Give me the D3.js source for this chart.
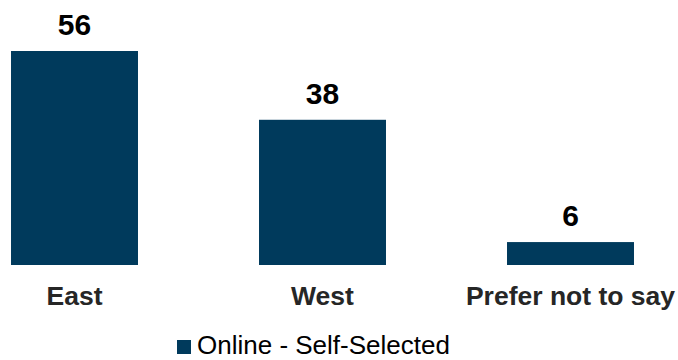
<!DOCTYPE html>
<html><head><meta charset="utf-8">
<script src="https://cdn.jsdelivr.net/npm/d3@7"></script>
<style>body{margin:0;background:#fff}svg{display:block}</style>
</head><body>
<svg id="chart" width="678" height="360"></svg>
<script>
const categories = ["East", "West", "Prefer not to say"];
const values = [56, 38, 6];
const seriesName = "Online - Self-Selected";
const color = "#003a5c";

const svg = d3.select("#chart");
const font = "Liberation Sans, Arial, sans-serif";
const baseline = 265;

const x = d3.scaleBand().domain(categories).range([-49.5, 694.5])
  .paddingInner(0.488).paddingOuter(0.244);
const y = d3.scaleLinear().domain([0, 56]).range([baseline, 51]);

svg.selectAll("rect.bar").data(values).join("rect").attr("class","bar")
  .attr("x", (d,i) => x(categories[i])).attr("width", x.bandwidth())
  .attr("y", d => y(d)).attr("height", d => baseline - y(d)).attr("fill", color);

svg.selectAll("text.val").data(values).join("text").attr("class","val")
  .attr("x", (d,i) => x(categories[i]) + x.bandwidth()/2)
  .attr("y", d => y(d) - 16).attr("text-anchor","middle")
  .attr("font-family", font).attr("font-weight","bold").attr("font-size", 30)
  .attr("fill", "#000").text(d => d);

const xAxis = d3.axisBottom(x).tickSize(0).tickPadding(0);
const gx = svg.append("g").attr("transform", `translate(0,${baseline})`).call(xAxis);
gx.select(".domain").remove();
gx.selectAll("text").attr("font-family", font).attr("font-weight","bold")
  .attr("font-size", 26.5).attr("fill","#262626").attr("dy", null).attr("y", 40);

const lg = svg.append("g").attr("transform","translate(177,340)");
lg.append("rect").attr("width",14).attr("height",14).attr("fill",color);
lg.append("text").attr("x",20).attr("y",14).attr("font-family",font)
  .attr("font-size",26).attr("fill","#000").text(seriesName);
</script>
</body></html>
